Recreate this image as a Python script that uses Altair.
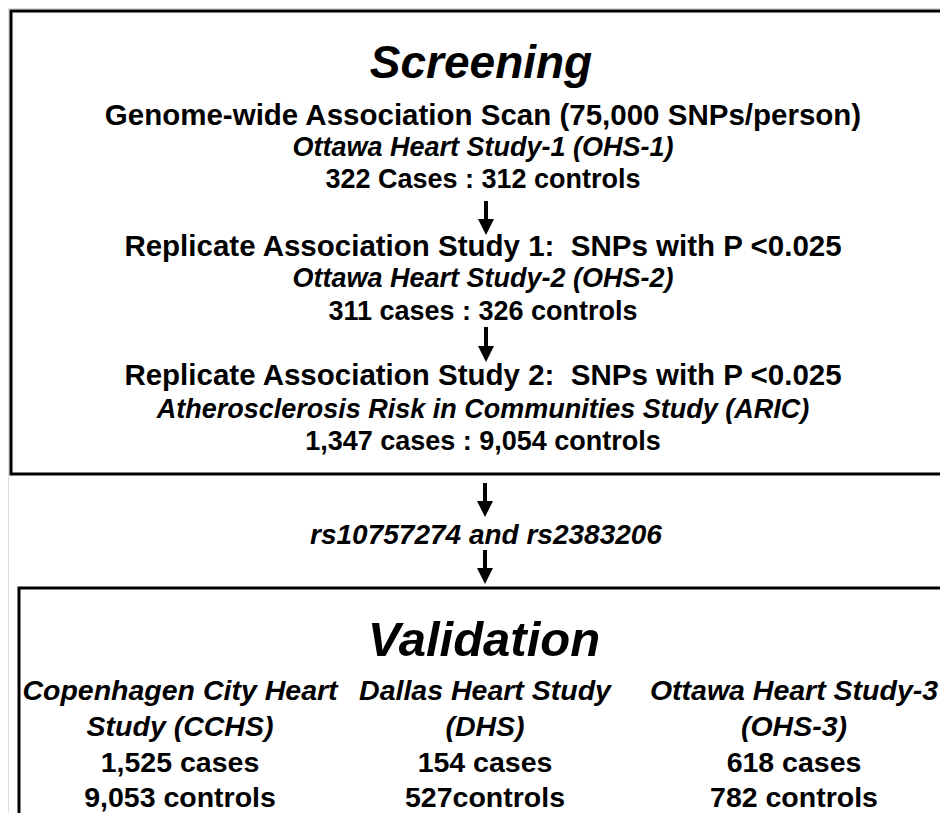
import altair as alt
import pandas as pd

# ---------------- content ----------------
screen_title = "Screening"
screen_lines = [
    "Genome-wide Association Scan (75,000 SNPs/person)",
    "Ottawa Heart Study-1 (OHS-1)",
    "322 Cases : 312 controls",
    "Replicate Association Study 1:\u00a0 SNPs with P <0.025",
    "Ottawa Heart Study-2 (OHS-2)",
    "311 cases : 326 controls",
    "Replicate Association Study 2:\u00a0 SNPs with P <0.025",
    "Atherosclerosis Risk in Communities Study (ARIC)",
    "1,347 cases : 9,054 controls",
]
screen_styles = ["head", "ital", "count", "head", "ital", "count", "head", "ital", "count"]
snp_text = "rs10757274 and rs2383206"
valid_title = "Validation"
col_studies = [
    ["Copenhagen City Heart", "Study (CCHS)"],
    ["Dallas Heart Study", "(DHS)"],
    ["Ottawa Heart Study-3", "(OHS-3)"],
]
col_cases = ["1,525 cases", "154 cases", "618 cases"]
col_controls = ["9,053 controls", "527controls", "782 controls"]

# ---------------- layout (pixel space of the picture) ----------------
W, H = 932, 805
X0, Y0 = 8, 8
CX = 483
screen_baselines = [125, 156, 188, 256, 287, 320, 385, 418, 450]
size_of = {"head": 29.5, "ital": 27, "count": 27}
col_x = [180, 485, 794]
col_baselines = [700, 736, 772, 807]

rows = []
rows.append(dict(t=screen_title, x=CX - 2, y=78, fs=46, it=True))
for s, st, b in zip(screen_lines, screen_styles, screen_baselines):
    rows.append(dict(t=s, x=CX, y=b, fs=size_of[st], it=(st == "ital")))
rows.append(dict(t=snp_text, x=486, y=544, fs=28, it=True))
rows.append(dict(t=valid_title, x=484, y=656, fs=49, it=True))
for cx, (l1, l2), ca, co in zip(col_x, col_studies, col_cases, col_controls):
    rows.append(dict(t=l1, x=cx, y=col_baselines[0], fs=28.5, it=True))
    rows.append(dict(t=l2, x=cx, y=col_baselines[1], fs=28.5, it=True))
    rows.append(dict(t=ca, x=cx, y=col_baselines[2], fs=28.5, it=False))
    rows.append(dict(t=co, x=cx, y=col_baselines[3], fs=28.5, it=False))
txt = pd.DataFrame(rows)

boxes = pd.DataFrame([
    dict(x=11, x2=990, y=11, y2=474),
    dict(x=19, x2=990, y=588, y2=900),
])
arrows = pd.DataFrame([
    dict(x=486, y=201, tip=235),
    dict(x=486, y=327, tip=362),
    dict(x=485, y=483, tip=517),
    dict(x=485, y=550, tip=584),
])
arrows["neck"] = arrows["tip"] - 12
arrows["hc"] = arrows["tip"] - 8

xs = alt.Scale(domain=[X0, X0 + W], range=[0, W], nice=False, zero=False)
ys = alt.Scale(domain=[Y0, Y0 + H], range=[0, H], nice=False, zero=False)

FONT = "Arial, Liberation Sans, Helvetica, sans-serif"

def text_layer(df, italic):
    return alt.Chart(df).mark_text(
        font=FONT, fontWeight="bold", fontStyle="italic" if italic else "normal",
        baseline="alphabetic", align="center", color="black"
    ).encode(
        x=alt.X("x:Q", scale=xs, axis=None),
        y=alt.Y("y:Q", scale=ys, axis=None),
        text="t:N",
        size=alt.Size("fs:Q", scale=None, legend=None),
    )

box_layer = alt.Chart(boxes).mark_rect(fill=None, stroke="black", strokeWidth=3).encode(
    x=alt.X("x:Q", scale=xs, axis=None), x2="x2:Q",
    y=alt.Y("y:Q", scale=ys, axis=None), y2="y2:Q",
)
shaft = alt.Chart(arrows).mark_rule(stroke="black", strokeWidth=4).encode(
    x=alt.X("x:Q", scale=xs, axis=None),
    y=alt.Y("y:Q", scale=ys, axis=None), y2="neck:Q",
)
head = alt.Chart(arrows).mark_point(
    shape="M-1,-1L1,-1L0,1Z", filled=True, fill="black", opacity=1, size=256
).encode(
    x=alt.X("x:Q", scale=xs, axis=None),
    y=alt.Y("hc:Q", scale=ys, axis=None),
)

chart = alt.layer(
    box_layer, shaft, head,
    text_layer(txt[~txt.it], False),
    text_layer(txt[txt.it], True),
).properties(
    width=W, height=H, autosize=alt.AutoSizeParams(type="none"), padding=0
).configure_view(stroke=None).configure(background="white")

chart.save("out.html", embed_options={"renderer": "svg", "actions": False})
